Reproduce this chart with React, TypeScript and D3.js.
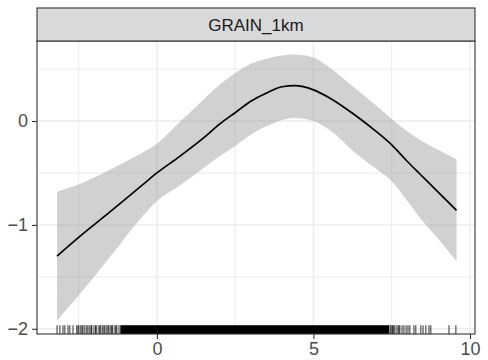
import React, { useEffect, useRef } from "react";
import * as d3 from "d3";

// smooth term for GRAIN_1km
const xVals = [-3.19, -2.5, -1.5, -0.5, 0, 0.73, 1.5, 2, 2.5, 3, 3.5, 4, 4.4, 5, 5.53, 6.27, 7, 7.5, 8, 8.4, 9, 9.57];
const fitVals = [-1.3, -1.12, -0.875, -0.625, -0.5, -0.34, -0.16, -0.03, 0.08, 0.19, 0.27, 0.33, 0.34, 0.3, 0.22, 0.07, -0.1, -0.23, -0.39, -0.51, -0.69, -0.86];
const upperVals = [-0.68, -0.61, -0.47, -0.31, -0.22, -0.01, 0.21, 0.35, 0.46, 0.55, 0.6, 0.63, 0.64, 0.61, 0.51, 0.33, 0.15, 0.02, -0.1, -0.18, -0.28, -0.37];
const lowerVals = [-1.92, -1.68, -1.31, -0.93, -0.77, -0.62, -0.45, -0.34, -0.24, -0.13, -0.05, 0.01, 0.03, 0.0, -0.09, -0.29, -0.46, -0.58, -0.77, -0.93, -1.14, -1.35];

// rug: sparse observations at the tails, plus a dense middle band
const rugSparse = [
  -3.19, -3.1, -3.0, -2.94, -2.84, -2.78, -2.68, -2.56, -2.52, -2.49, -2.43, -2.39, -2.36, -2.3,
  -2.24, -2.2, -2.14, -2.1, -2.08, -2.01, -1.96, -1.92, -1.85, -1.82, -1.79, -1.73, -1.69, -1.66,
  -1.6, -1.56, -1.53, -1.47, -1.44, -1.41, -1.34, -1.31, -1.28, -1.21,
  7.45, 7.48, 7.52, 7.55, 7.58, 7.64, 7.7, 7.73, 7.76, 7.83, 7.89, 7.96, 8.02, 8.08, 8.21, 8.27,
  8.43, 8.5, 8.59, 8.69, 8.75, 9.33, 9.55,
];
const rugDense = [-1.17, 7.42];

const xTicks = [0, 5, 10];
const xMinor = [-2.5, 2.5, 7.5];
const yTicks = [0, -1, -2];
const yMinor = [0.5, -0.5, -1.5];
const stripLabel = "GRAIN_1km";

const W = 488;
const H = 360;
const FONT = "'Liberation Sans', Arial, sans-serif";

export default function App() {
  const svgRef = useRef<SVGSVGElement>(null);

  useEffect(() => {
    const svg = d3.select(svgRef.current);
    svg.selectAll("*").remove();

    const left = 37, right = 475, stripTop = 8, top = 41, bottom = 334;

    const x = d3.scaleLinear().domain([-3.83, 10.16]).range([left, right]);
    const y = d3.scaleLinear().domain([-2.05, 0.77]).range([bottom, top]);

    svg.append("rect").attr("width", W).attr("height", H).attr("fill", "white");

    // grid
    const grid = svg.append("g");
    xMinor.forEach(v => grid.append("line")
      .attr("x1", x(v)).attr("x2", x(v)).attr("y1", top).attr("y2", bottom)
      .attr("stroke", "#ebebeb").attr("stroke-width", 1));
    yMinor.forEach(v => grid.append("line")
      .attr("y1", y(v)).attr("y2", y(v)).attr("x1", left).attr("x2", right)
      .attr("stroke", "#ebebeb").attr("stroke-width", 1));
    xTicks.forEach(v => grid.append("line")
      .attr("x1", x(v)).attr("x2", x(v)).attr("y1", top).attr("y2", bottom)
      .attr("stroke", "#ebebeb").attr("stroke-width", 1.4));
    yTicks.forEach(v => grid.append("line")
      .attr("y1", y(v)).attr("y2", y(v)).attr("x1", left).attr("x2", right)
      .attr("stroke", "#ebebeb").attr("stroke-width", 1.4));

    const rows = xVals.map((v, i) => ({ x: v, fit: fitVals[i], lo: lowerVals[i], hi: upperVals[i] }));

    // confidence band
    const area = d3.area<any>()
      .x(d => x(d.x)).y0(d => y(d.lo)).y1(d => y(d.hi))
      .curve(d3.curveMonotoneX);
    svg.append("path").attr("d", area(rows)).attr("fill", "#999999").attr("opacity", 0.45);

    // fitted line
    const line = d3.line<any>().x(d => x(d.x)).y(d => y(d.fit)).curve(d3.curveMonotoneX);
    svg.append("path").attr("d", line(rows)).attr("fill", "none")
      .attr("stroke", "black").attr("stroke-width", 1.7);

    // rug
    const rugLen = (bottom - top) * 0.03;
    svg.append("rect")
      .attr("x", x(rugDense[0])).attr("width", x(rugDense[1]) - x(rugDense[0]))
      .attr("y", bottom - rugLen).attr("height", rugLen).attr("fill", "black");
    svg.append("g").selectAll("line").data(rugSparse).enter().append("line")
      .attr("x1", d => x(d)).attr("x2", d => x(d))
      .attr("y1", bottom - rugLen).attr("y2", bottom)
      .attr("stroke", "black").attr("stroke-width", 1).attr("opacity", 0.8);

    // panel border
    svg.append("rect").attr("x", left).attr("y", top)
      .attr("width", right - left).attr("height", bottom - top)
      .attr("fill", "none").attr("stroke", "#333333").attr("stroke-width", 1.1);

    // strip
    svg.append("rect").attr("x", left).attr("y", stripTop)
      .attr("width", right - left).attr("height", top - stripTop)
      .attr("fill", "#d9d9d9").attr("stroke", "#333333").attr("stroke-width", 1.1);
    svg.append("text").attr("x", (left + right) / 2).attr("y", (stripTop + top) / 2)
      .attr("dy", "0.36em").attr("text-anchor", "middle")
      .attr("font-family", FONT).attr("font-size", 17).attr("fill", "#1a1a1a")
      .text(stripLabel);

    // axes
    const fmt = (d: any) => (d < 0 ? "\u2212" + Math.abs(d) : String(d));
    const xAxis = svg.append("g").attr("transform", `translate(0,${bottom})`)
      .call(d3.axisBottom(x).tickValues(xTicks).tickSize(5).tickPadding(3).tickFormat(fmt));
    const yAxis = svg.append("g").attr("transform", `translate(${left},0)`)
      .call(d3.axisLeft(y).tickValues(yTicks).tickSize(5).tickPadding(4).tickFormat(fmt));
    [xAxis, yAxis].forEach(ax => {
      ax.select(".domain").remove();
      ax.selectAll(".tick line").attr("stroke", "#333333").attr("stroke-width", 1.1);
      ax.selectAll(".tick text").attr("fill", "#4d4d4d")
        .attr("font-family", FONT).attr("font-size", 18);
    });
  }, []);

  return (
    <svg ref={svgRef} width={W} height={H}
      style={{ position: "absolute", left: 0, top: 0, display: "block" }} />
  );
}
